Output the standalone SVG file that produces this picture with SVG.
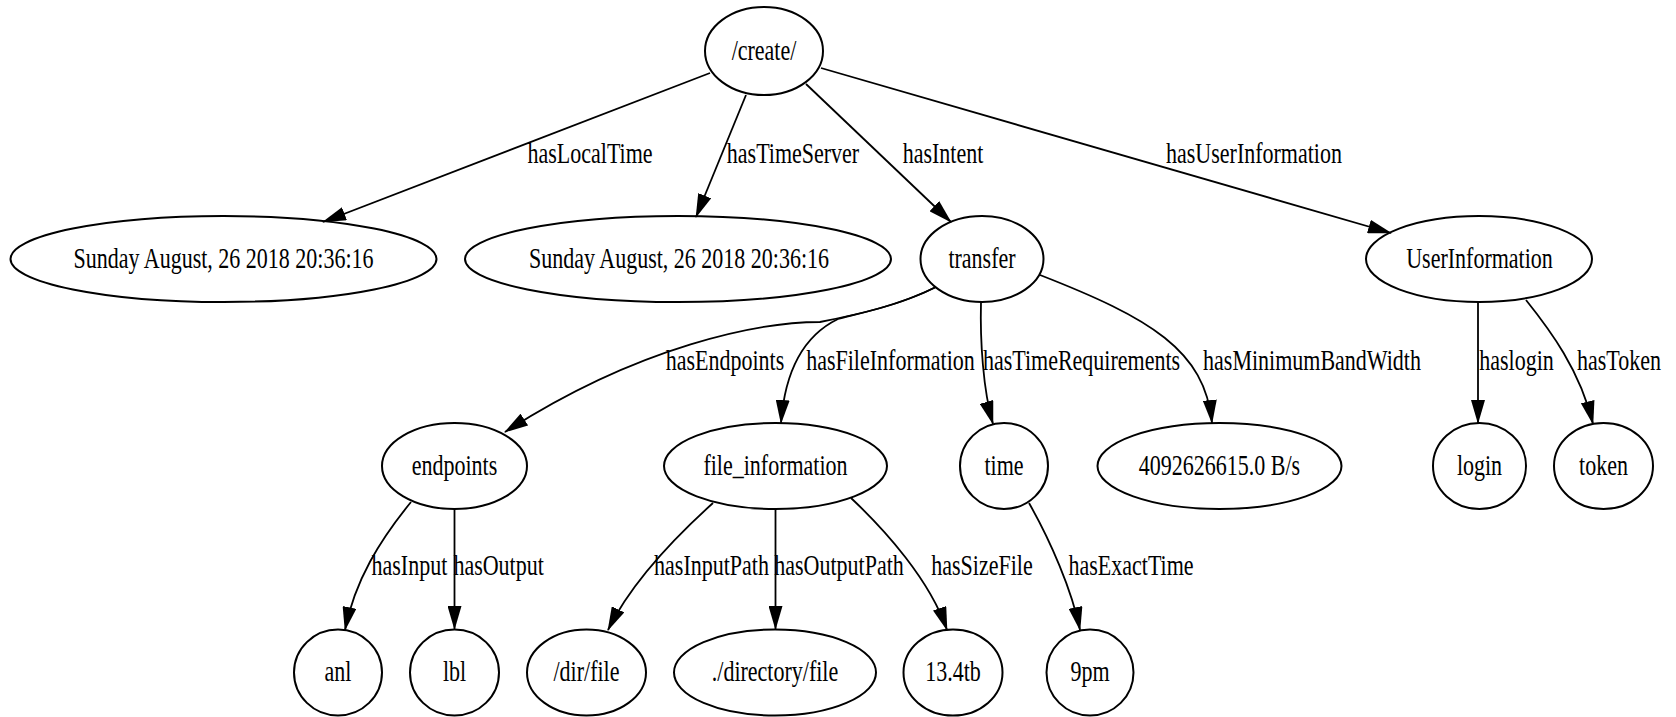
<svg xmlns="http://www.w3.org/2000/svg" width="1676" height="717" viewBox="0 0 1676 717">
  <defs>
    <style>
      .node ellipse { fill: none; stroke: #000; stroke-width: 2; }
      text { font-family: "Liberation Serif", "Times New Roman", serif; font-size: 29.5px; text-anchor: middle; fill: #000; }
      .edge { fill: none; stroke: #000; stroke-width: 1.8; marker-end: url(#arrow); }
    </style>
    <marker id="arrow" markerUnits="userSpaceOnUse" markerWidth="24" markerHeight="14" refX="23" refY="7" orient="auto">
      <path d="M0,0 L24,7 L0,14 z" fill="#000"/>
    </marker>
  </defs>
  <rect width="1676" height="717" fill="#fff"/>

  <!-- connectors and their labels -->
  <g id="edges">
    <path class="edge" d="M710,73 L323,222"/>
    <text transform="translate(590,163) scale(0.746,1)">hasLocalTime</text>
    <path class="edge" d="M746,95 L696,217"/>
    <text transform="translate(793,163) scale(0.746,1)">hasTimeServer</text>
    <path class="edge" d="M806,84 L951,222"/>
    <text transform="translate(943,163) scale(0.746,1)">hasIntent</text>
    <path class="edge" d="M821,68 L1391,233"/>
    <text transform="translate(1254,163) scale(0.746,1)">hasUserInformation</text>

    <path class="edge" d="M936,287 C900,305 860,314 820,322 C760,322 640,345 505,432"/>
    <text transform="translate(725,370) scale(0.746,1)">hasEndpoints</text>
    <path class="edge" d="M936,287 C900,305 865,312 838,319 C805,335 785,370 781,423"/>
    <text transform="translate(890.5,370) scale(0.746,1)">hasFileInformation</text>
    <path class="edge" d="M981,302 C980,340 983,390 993,424"/>
    <text transform="translate(1081.5,370) scale(0.746,1)">hasTimeRequirements</text>
    <path class="edge" d="M1040,275 C1150,318 1205,350 1212,423"/>
    <text transform="translate(1312,370) scale(0.746,1)">hasMinimumBandWidth</text>
    <path class="edge" d="M1478,301 L1478,423"/>
    <text transform="translate(1516.5,370) scale(0.746,1)">haslogin</text>
    <path class="edge" d="M1526,300 C1550,330 1580,370 1593,424"/>
    <text transform="translate(1619,370) scale(0.746,1)">hasToken</text>

    <path class="edge" d="M411,502 C380,540 355,580 345,630"/>
    <text transform="translate(409.4,575) scale(0.746,1)">hasInput</text>
    <path class="edge" d="M454.5,509 L454.5,629"/>
    <text transform="translate(498.6,575) scale(0.746,1)">hasOutput</text>
    <path class="edge" d="M713,503 C672,540 630,585 608,630"/>
    <text transform="translate(711.5,575) scale(0.746,1)">hasInputPath</text>
    <path class="edge" d="M775.5,509 L775.5,629"/>
    <text transform="translate(839,575) scale(0.746,1)">hasOutputPath</text>
    <path class="edge" d="M851,498 C885,530 930,580 947,630"/>
    <text transform="translate(982,575) scale(0.746,1)">hasSizeFile</text>
    <path class="edge" d="M1029,503 C1050,540 1072,590 1080,630"/>
    <text transform="translate(1131,575) scale(0.746,1)">hasExactTime</text>
  </g>

  <!-- rank 1 -->
  <g id="node-create" class="node">
    <ellipse cx="764" cy="51" rx="59" ry="44"/>
    <text transform="translate(764,59.5) scale(0.746,1)">/create/</text>
  </g>

  <!-- rank 2 -->
  <g id="node-localtime" class="node">
    <ellipse cx="223.5" cy="259" rx="213" ry="43"/>
    <text transform="translate(223.5,267.5) scale(0.746,1)">Sunday August, 26 2018 20:36:16</text>
  </g>
  <g id="node-timeserver" class="node">
    <ellipse cx="678" cy="259" rx="213" ry="43"/>
    <text transform="translate(679,267.5) scale(0.746,1)">Sunday August, 26 2018 20:36:16</text>
  </g>
  <g id="node-transfer" class="node">
    <ellipse cx="982" cy="259" rx="61.5" ry="43"/>
    <text transform="translate(982,267.5) scale(0.746,1)">transfer</text>
  </g>
  <g id="node-userinformation" class="node">
    <ellipse cx="1479" cy="259" rx="113" ry="43"/>
    <text transform="translate(1479.5,267.5) scale(0.746,1)">UserInformation</text>
  </g>

  <!-- rank 3 -->
  <g id="node-endpoints" class="node">
    <ellipse cx="454.5" cy="466" rx="72.5" ry="43"/>
    <text transform="translate(454.5,474.5) scale(0.746,1)">endpoints</text>
  </g>
  <g id="node-file-information" class="node">
    <ellipse cx="775.5" cy="466" rx="111.5" ry="43"/>
    <text transform="translate(775.5,474.5) scale(0.746,1)">file_information</text>
  </g>
  <g id="node-time" class="node">
    <ellipse cx="1004" cy="466" rx="44" ry="43"/>
    <text transform="translate(1004,474.5) scale(0.746,1)">time</text>
  </g>
  <g id="node-bandwidth" class="node">
    <ellipse cx="1219.5" cy="466" rx="122" ry="43"/>
    <text transform="translate(1219.5,474.5) scale(0.746,1)">4092626615.0 B/s</text>
  </g>
  <g id="node-login" class="node">
    <ellipse cx="1479.5" cy="466" rx="46.5" ry="43"/>
    <text transform="translate(1479.5,474.5) scale(0.746,1)">login</text>
  </g>
  <g id="node-token" class="node">
    <ellipse cx="1603.5" cy="466" rx="49.5" ry="43"/>
    <text transform="translate(1603.5,474.5) scale(0.746,1)">token</text>
  </g>

  <!-- rank 4 -->
  <g id="node-anl" class="node">
    <ellipse cx="338" cy="672.5" rx="44" ry="43"/>
    <text transform="translate(338,681) scale(0.746,1)">anl</text>
  </g>
  <g id="node-lbl" class="node">
    <ellipse cx="454.5" cy="672.5" rx="44.5" ry="43"/>
    <text transform="translate(454.5,681) scale(0.746,1)">lbl</text>
  </g>
  <g id="node-input-path" class="node">
    <ellipse cx="586.5" cy="672.5" rx="59.5" ry="43"/>
    <text transform="translate(586.5,681) scale(0.746,1)">/dir/file</text>
  </g>
  <g id="node-output-path" class="node">
    <ellipse cx="775" cy="672.5" rx="101" ry="43"/>
    <text transform="translate(775,681) scale(0.746,1)">./directory/file</text>
  </g>
  <g id="node-size" class="node">
    <ellipse cx="953" cy="672.5" rx="49.5" ry="43"/>
    <text transform="translate(953,681) scale(0.746,1)">13.4tb</text>
  </g>
  <g id="node-exact-time" class="node">
    <ellipse cx="1090" cy="672.5" rx="43.5" ry="43"/>
    <text transform="translate(1090,681) scale(0.746,1)">9pm</text>
  </g>
</svg>
